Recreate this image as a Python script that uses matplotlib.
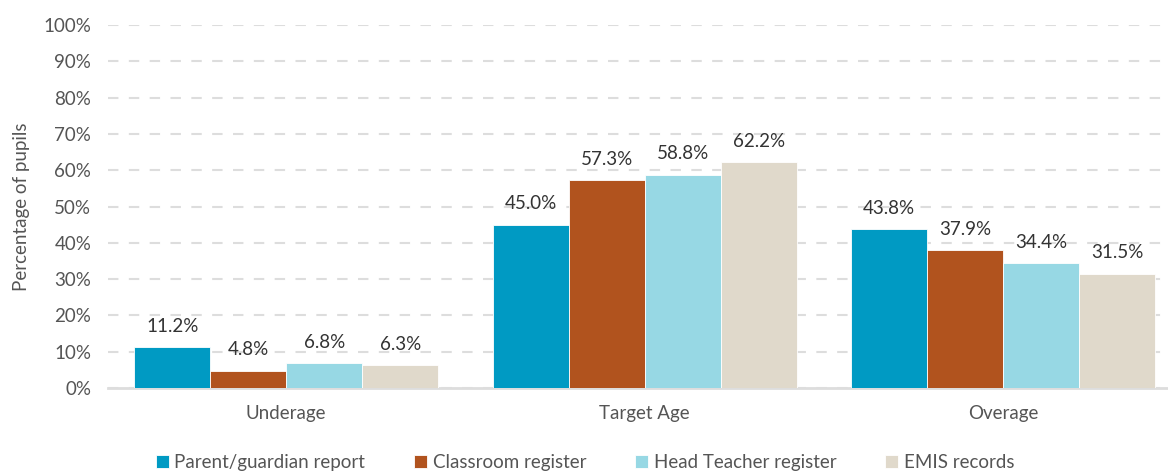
import matplotlib
matplotlib.use("Agg")
import matplotlib.pyplot as plt
import numpy as np

plt.rcParams["font.family"] = ["Lato", "DejaVu Sans"]

categories = ["Underage", "Target Age", "Overage"]
series = ["Parent/guardian report", "Classroom register", "Head Teacher register", "EMIS records"]
parent = [11.2, 45.0, 43.8]
classroom = [4.8, 57.3, 37.9]
head_teacher = [6.8, 58.8, 34.4]
emis = [6.3, 62.2, 31.5]
colors = ["#009ac3", "#b1531e", "#97d8e4", "#e0d9cb"]

fig = plt.figure(figsize=(11.68, 4.72), dpi=100)
ax = fig.add_axes([0.0925, 0.178, 0.9075, 0.769])

x = np.arange(len(categories))
width = 0.212
for i, (name, vals) in enumerate(zip(series, [parent, classroom, head_teacher, emis])):
    pos = x + (i - 1.5) * width
    bars = ax.bar(pos, vals, width, color=colors[i], edgecolor="white", linewidth=0.6,
                  label=name, zorder=3)
    for b, v in zip(bars, vals):
        ax.annotate(f"{v:.1f}%", (b.get_x() + b.get_width() / 2, v),
                    xytext=(0, 9), textcoords="offset points",
                    ha="center", va="bottom", fontsize=13.5, color="#333333")

ax.set_ylim(0, 100)
ax.set_xlim(-0.497, 2.46)
ax.set_yticks(np.arange(0, 101, 10))
ax.set_yticklabels([f"{t}%" for t in range(0, 101, 10)])
ax.set_xticks(x)
ax.set_xticklabels(categories)
ax.tick_params(axis="both", length=0, labelsize=13.5, labelcolor="#555555")
ax.tick_params(axis="x", pad=12)
ax.tick_params(axis="y", pad=12)
ax.yaxis.grid(True, color="#dddddd", linewidth=1.5, linestyle=(0, (5, 5)), zorder=0)
for s in ["top", "right", "left"]:
    ax.spines[s].set_visible(False)
ax.spines["bottom"].set_color("#dddddd")
ax.spines["bottom"].set_linewidth(2)
ax.set_ylabel("Percentage of pupils", fontsize=13.5, color="#555555", labelpad=10)

ax.legend(loc="center", bbox_to_anchor=(0.45, -0.205), ncol=4, frameon=False,
          fontsize=13.5, labelcolor="#555555", handlelength=0.7, handleheight=0.7,
          handletextpad=0.3, columnspacing=2.6, borderpad=0.1)

fig.savefig("out.png", dpi=100, facecolor="white")
